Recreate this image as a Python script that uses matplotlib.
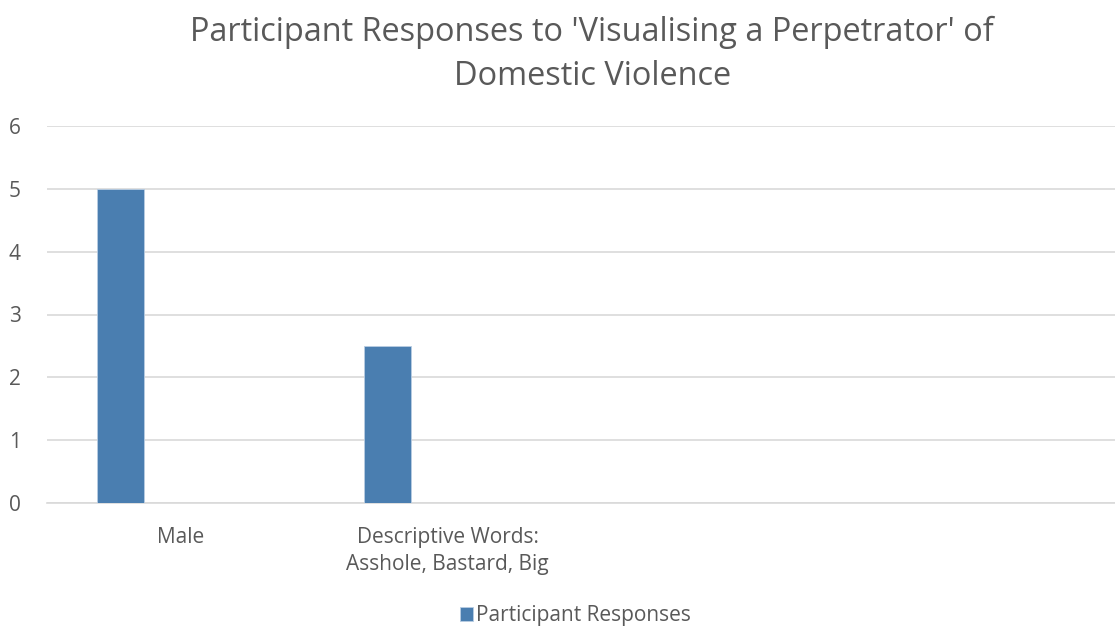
import matplotlib.pyplot as plt
import numpy as np

# data
categories = ["Male", "Descriptive Words:\nAsshole, Bastard, Big", "", ""]
responses = [5, 2.5, 0, 0]
y_ticks = [0, 1, 2, 3, 4, 5, 6]
series_name = "Participant Responses"
title = "Participant Responses to 'Visualising a Perpetrator' of\nDomestic Violence"

plt.rcParams["font.family"] = ["Open Sans", "DejaVu Sans"]
grey = "#595959"

fig = plt.figure(figsize=(11.15, 6.29), dpi=100)
ax = fig.add_axes([0.0422, 0.2003, 0.9578, 0.5994])

x = np.arange(len(categories))
ax.bar(x - 0.225, responses, width=0.175, color="#4a7eb0",
       edgecolor="#b9cde2", linewidth=0.6, label=series_name, zorder=3)

ax.set_xlim(-0.5, len(categories) - 0.5)
ax.set_ylim(0, 6)
ax.set_yticks(y_ticks)
ax.set_xticks(x)
ax.set_xticklabels(categories, fontsize=15, color=grey, linespacing=1.4)
ax.tick_params(axis="y", labelsize=15, labelcolor=grey, length=0, pad=19)
ax.tick_params(axis="x", length=0, pad=17)

ax.grid(axis="y", color="#d9d9d9", linewidth=1.2, zorder=0)
for s in ["top", "right", "left"]:
    ax.spines[s].set_visible(False)
ax.spines["bottom"].set_color("#d9d9d9")
ax.spines["bottom"].set_linewidth(1.2)

fig.suptitle(title, fontsize=23.4, color=grey, x=0.531, y=0.975, linespacing=1.45)

fig.legend(loc="center", bbox_to_anchor=(0.516, 0.021), frameon=False,
           fontsize=15, labelcolor=grey, handlelength=0.65,
           handleheight=0.65, handletextpad=0.15)

fig.savefig("out.png", dpi=100)
